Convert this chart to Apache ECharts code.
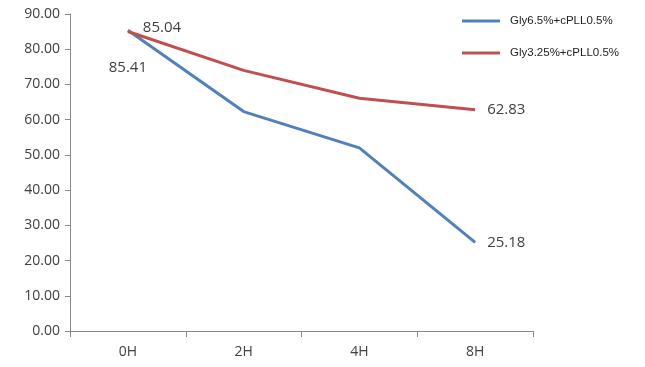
<!DOCTYPE html>
<html><head><meta charset="utf-8">
<script src="https://cdn.jsdelivr.net/npm/echarts@6/dist/echarts.min.js"></script>
<style>html,body{margin:0;padding:0;background:#fff}#c{width:645px;height:367px}</style>
</head><body><div id="c"></div>
<script>
const categories = ['0H', '2H', '4H', '8H'];
const seriesNames = ['Gly6.5%+cPLL0.5%', 'Gly3.25%+cPLL0.5%'];
const blueValues = [85.41, 62.3, 52.0, 25.18];
const redValues = [85.04, 74.0, 66.1, 62.83];
const yTicks = { min: 0, max: 90, interval: 10 };

const labelFont = { fontFamily: 'Open Sans, Liberation Sans, sans-serif', fontSize: 14, color: '#404040' };
const dataFont = Object.assign({}, labelFont, { fontSize: 15 });

function withLabels(values, labelCfg) {
  return values.map((v, i) => labelCfg[i] ? { value: v, label: Object.assign({ show: true, formatter: '{c}' }, dataFont, labelCfg[i]) } : v);
}

const chart = echarts.init(document.getElementById('c'));
chart.setOption({
  animation: false,
  grid: { left: 70, right: 112, top: 14, bottom: 36 },
  legend: {
    orient: 'vertical', left: 457, top: 10, itemGap: 20,
    itemWidth: 38, itemHeight: 12,
    textStyle: { fontFamily: 'Liberation Sans, Arial, sans-serif', fontSize: 11.5, color: '#222', padding: [0, 0, 0, 5] },
    data: seriesNames.map(n => ({ name: n, icon: 'path://M0,5 L38,5 L38,8 L0,8 Z' }))
  },
  xAxis: {
    type: 'category', data: categories, boundaryGap: true,
    axisLine: { lineStyle: { color: '#888', width: 1 } },
    axisTick: { show: true, alignWithLabel: false, length: 6, lineStyle: { color: '#888' } },
    axisLabel: Object.assign({ margin: 14 }, labelFont)
  },
  yAxis: {
    type: 'value', min: yTicks.min, max: yTicks.max, interval: yTicks.interval,
    axisLine: { show: true, lineStyle: { color: '#888', width: 1 } },
    axisTick: { show: true, length: 5, lineStyle: { color: '#888' } },
    splitLine: { show: false },
    axisLabel: Object.assign({ formatter: v => v.toFixed(2), margin: 10 }, labelFont)
  },
  series: [
    {
      name: seriesNames[0], type: 'line', symbol: 'circle', symbolSize: 0.1, showSymbol: true, smooth: false,
      lineStyle: { color: '#4F81BD', width: 3 }, itemStyle: { color: '#4F81BD' },
      labelLayout: { hideOverlap: false },
      data: withLabels(blueValues, { 0: { position: 'bottom', distance: 30, offset: [-5, 0] }, 3: { position: 'right', distance: 12, offset: [0, 2] } })
    },
    {
      name: seriesNames[1], type: 'line', symbol: 'circle', symbolSize: 0.1, showSymbol: true, smooth: false,
      lineStyle: { color: '#C0504D', width: 3 }, itemStyle: { color: '#C0504D' },
      labelLayout: { hideOverlap: false },
      data: withLabels(redValues, { 0: { position: [15, -4], align: 'left', verticalAlign: 'middle' }, 3: { position: 'right', distance: 12, offset: [0, 2] } })
    }
  ]
});
</script></body></html>
